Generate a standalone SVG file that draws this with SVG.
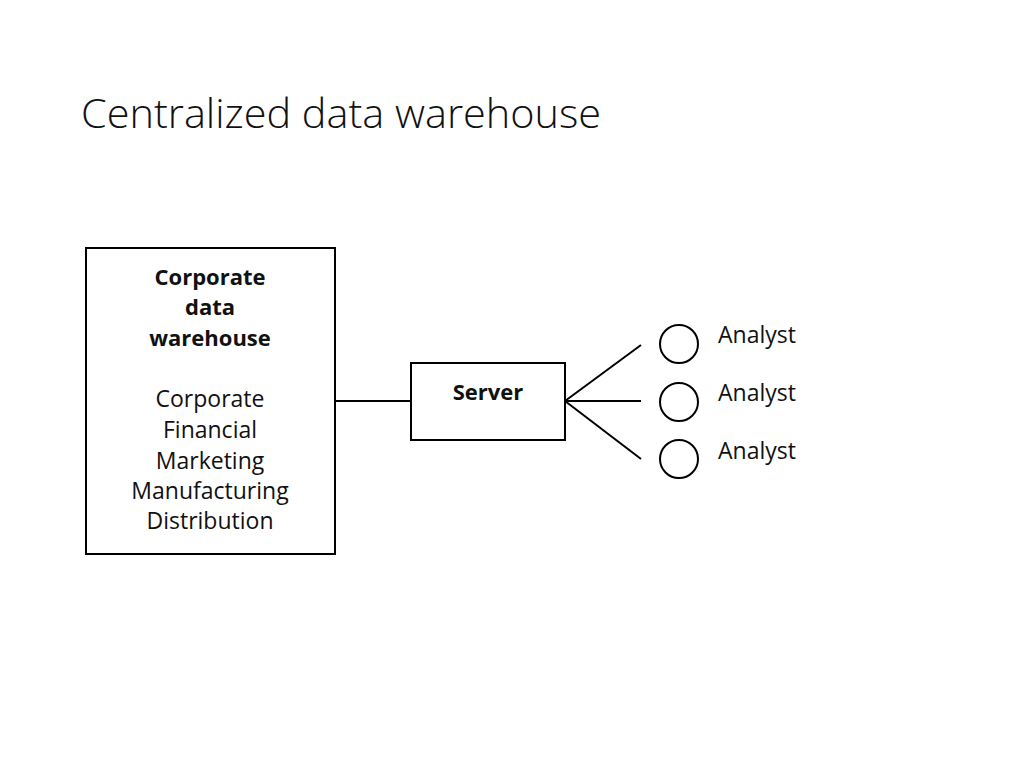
<svg xmlns="http://www.w3.org/2000/svg" width="1024" height="768" viewBox="0 0 1024 768">
<style>
.box{fill:#fff;stroke:#000;stroke-width:2}
.t{font-family:"Open Sans","Liberation Sans",sans-serif;font-size:23px;fill:#111;text-anchor:middle}
.b{font-weight:bold;font-size:22px}
.a{font-family:"Open Sans","Liberation Sans",sans-serif;font-size:23px;fill:#111}
.ln{stroke:#000;stroke-width:2;fill:none}
</style>
<rect width="1024" height="768" fill="#fff"/>
<text x="81" y="128" font-family="'Open Sans','Liberation Sans',sans-serif" font-weight="300" font-size="41" fill="#111" textLength="520" lengthAdjust="spacingAndGlyphs">Centralized data warehouse</text>
<g id="connectors">
<line class="ln" x1="335" y1="401" x2="411" y2="401"/>
<line class="ln" x1="565" y1="401" x2="641" y2="345"/>
<line class="ln" x1="565" y1="401" x2="641" y2="401"/>
<line class="ln" x1="565" y1="401" x2="641" y2="459"/>
</g>
<g id="warehouse">
<rect class="box" x="86" y="248" width="249" height="306"/>
<text class="t b" x="210" y="285">Corporate</text>
<text class="t b" x="210" y="315">data</text>
<text class="t b" x="210" y="346">warehouse</text>
<text class="t" x="210" y="407">Corporate</text>
<text class="t" x="210" y="438">Financial</text>
<text class="t" x="210" y="469">Marketing</text>
<text class="t" x="210" y="499">Manufacturing</text>
<text class="t" x="210" y="529">Distribution</text>
</g>
<g id="server">
<rect class="box" x="411" y="363" width="154" height="77"/>
<text class="t b" x="488" y="400">Server</text>
</g>
<g id="analyst1">
<circle class="ln" cx="679" cy="344" r="19"/>
<text class="a" x="718" y="343">Analyst</text>
</g>
<g id="analyst2">
<circle class="ln" cx="679" cy="402" r="19"/>
<text class="a" x="718" y="401">Analyst</text>
</g>
<g id="analyst3">
<circle class="ln" cx="679" cy="459" r="19"/>
<text class="a" x="718" y="459">Analyst</text>
</g>
</svg>
